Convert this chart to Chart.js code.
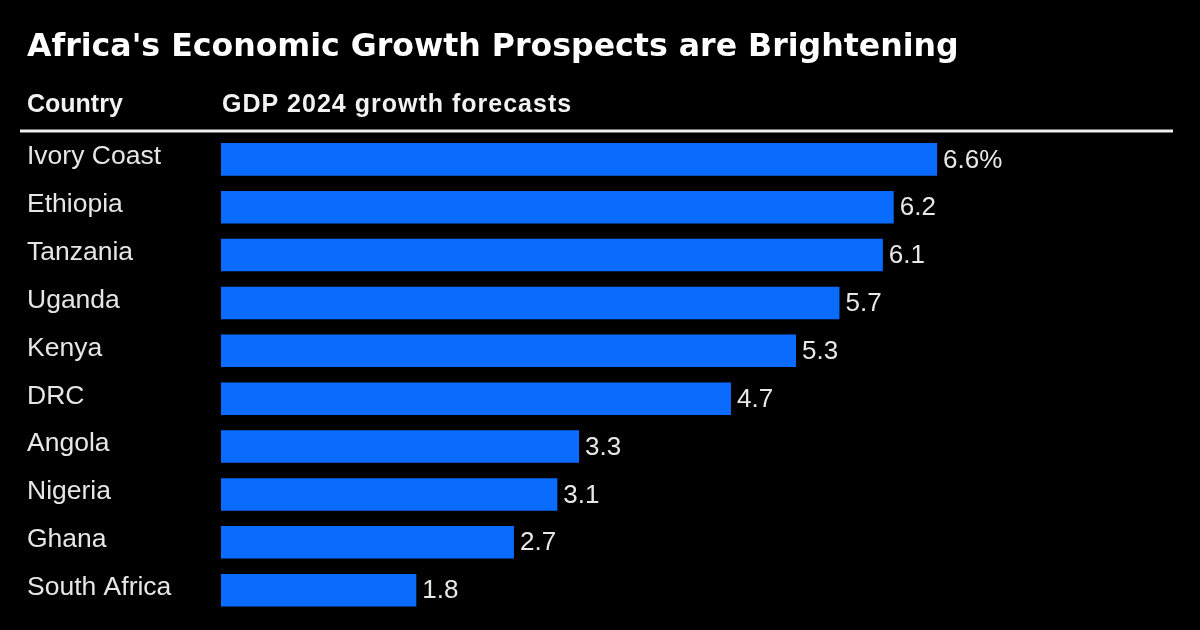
<!DOCTYPE html>
<html><head><meta charset="utf-8">
<script src="https://cdn.jsdelivr.net/npm/chart.js@4/dist/chart.umd.min.js"></script>
<style>html,body{margin:0;padding:0;background:#000;} #wrap{width:1200px;height:630px;position:relative;}</style>
</head><body><div id="wrap"><canvas id="c" width="1200" height="630"></canvas></div>
<script>
const titleText = "Africa's Economic Growth Prospects are Brightening";
const columnHeaders = ["Country", "GDP 2024 growth forecasts"];
const countries = ["Ivory Coast","Ethiopia","Tanzania","Uganda","Kenya","DRC","Angola","Nigeria","Ghana","South Africa"];
const gdpGrowth2024 = [6.6,6.2,6.1,5.7,5.3,4.7,3.3,3.1,2.7,1.8];
const valueLabels = ["6.6%","6.2","6.1","5.7","5.3","4.7","3.3","3.1","2.7","1.8"];

const headerPlugin = {
  id: 'headerPlugin',
  afterDraw(chart) {
    const ctx = chart.ctx;
    const yScale = chart.scales.y;
    ctx.save();
    ctx.fillStyle = '#f2f2f2';
    ctx.textBaseline = 'alphabetic';
    ctx.textAlign = 'left';
    ctx.font = 'bold 25px "Liberation Sans", Arial, sans-serif';
    ctx.fillText(columnHeaders[0], yScale.left, 112);
    ctx.letterSpacing = '1px';
    ctx.fillText(columnHeaders[1], chart.chartArea.left + 1, 112);
    ctx.letterSpacing = '0px';
    ctx.strokeStyle = '#eeeeee';
    ctx.lineWidth = 3;
    ctx.beginPath();
    ctx.moveTo(20, 131);
    ctx.lineTo(1173, 131);
    ctx.stroke();
    ctx.restore();
  }
};

const valueLabelPlugin = {
  id: 'valueLabelPlugin',
  afterDatasetsDraw(chart) {
    const ctx = chart.ctx;
    const meta = chart.getDatasetMeta(0);
    ctx.save();
    ctx.fillStyle = '#e8e8e8';
    ctx.font = '26px "Liberation Sans", Arial, sans-serif';
    ctx.textBaseline = 'middle';
    ctx.textAlign = 'left';
    meta.data.forEach((bar, i) => {
      ctx.fillText(valueLabels[i], bar.x + 6, bar.y + 1);
    });
    ctx.restore();
  }
};

new Chart(document.getElementById('c'), {
  type: 'bar',
  data: {
    labels: countries,
    datasets: [{
      data: gdpGrowth2024,
      backgroundColor: '#0a6cff',
      borderWidth: 0,
      barPercentage: 0.68,
      categoryPercentage: 1
    }]
  },
  options: {
    indexAxis: 'y',
    responsive: false,
    animation: false,
    devicePixelRatio: 1,
    layout: { padding: { left: 27, right: 111, top: 0, bottom: 14.5 } },
    plugins: {
      legend: { display: false },
      tooltip: { enabled: false },
      title: {
        display: true,
        text: titleText,
        align: 'start',
        color: '#ffffff',
        font: { family: '"DejaVu Sans", sans-serif', weight: 'bold', size: 31.6 },
        padding: { top: 28.5, bottom: 69 }
      }
    },
    scales: {
      x: { min: 0, max: 8, display: false },
      y: {
        grid: { display: false },
        border: { display: false },
        ticks: {
          color: '#e6e6e6',
          font: { family: '"Liberation Sans", Arial, sans-serif', size: 26.5 },
          crossAlign: 'far',
          labelOffset: -2.5,
          padding: 0
        },
        afterFit(scale) { scale.width = 194; }
      }
    }
  },
  plugins: [headerPlugin, valueLabelPlugin]
});
</script>
</body></html>
